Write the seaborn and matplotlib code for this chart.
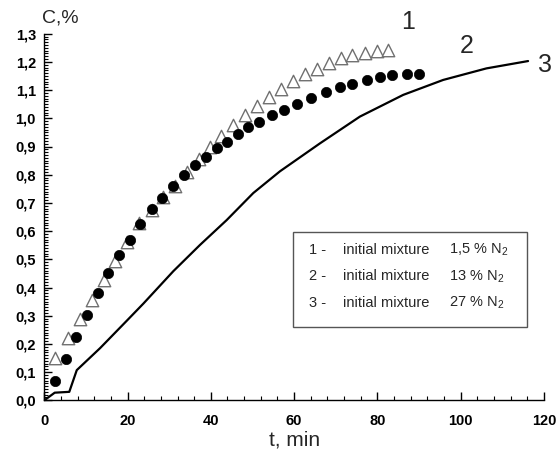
import matplotlib
matplotlib.use("Agg")
import matplotlib.pyplot as plt
import seaborn as sns
import pandas as pd
from matplotlib.ticker import MultipleLocator, FixedLocator, FixedFormatter
from matplotlib.patches import Rectangle

# Series 1 (open triangles): 1,5 % N2
t1 = [2.6, 5.6, 8.6, 11.4, 14.3, 17.0, 19.9, 22.8, 25.8, 28.6, 31.4, 34.3, 37.2, 39.8,
      42.4, 45.4, 48.2, 51.1, 54.0, 56.9, 59.8, 62.6, 65.5, 68.4, 71.2, 74.0, 77.0, 79.8, 82.6]
c1 = [0.15, 0.22, 0.287, 0.356, 0.427, 0.494, 0.562, 0.628, 0.675, 0.72, 0.76, 0.81, 0.855, 0.899,
      0.937, 0.976, 1.01, 1.044, 1.074, 1.103, 1.131, 1.157, 1.174, 1.197, 1.213, 1.225, 1.233, 1.239, 1.242]

# Series 2 (filled circles): 13 % N2
t2 = [2.6, 5.1, 7.7, 10.3, 12.8, 15.4, 17.9, 20.6, 23.1, 25.8, 28.3, 30.8, 33.5, 36.2, 38.8, 41.4,
      43.8, 46.6, 49.0, 51.6, 54.6, 57.6, 60.6, 64.0, 67.6, 71.0, 74.0, 77.4, 80.6, 83.6, 87.0, 90.1]
c2 = [0.068, 0.145, 0.226, 0.304, 0.379, 0.45, 0.515, 0.57, 0.624, 0.677, 0.718, 0.761, 0.799, 0.834,
      0.864, 0.894, 0.917, 0.944, 0.968, 0.988, 1.011, 1.029, 1.050, 1.071, 1.094, 1.112, 1.121, 1.135,
      1.145, 1.153, 1.156, 1.158]

# Series 3 (solid line): 27 % N2
t3 = [0, 2.5, 6.0, 7.8, 13.4, 19.8, 23.8, 31.0, 37.4, 43.8, 50.2, 56.6, 66.2, 75.8, 86.2, 95.8, 106.2, 116.2]
c3 = [0, 0.027, 0.03, 0.107, 0.185, 0.282, 0.343, 0.458, 0.551, 0.639, 0.735, 0.812, 0.911, 1.006,
      1.083, 1.136, 1.177, 1.203]

x_ticks = [0, 20, 40, 60, 80, 100, 120]
x_tick_labels = ["0", "20", "40", "60", "80", "100", "120"]
y_ticks = [0.0, 0.1, 0.2, 0.3, 0.4, 0.5, 0.6, 0.7, 0.8, 0.9, 1.0, 1.1, 1.2, 1.3]
y_tick_labels = ["0,0", "0,1", "0,2", "0,3", "0,4", "0,5", "0,6", "0,7", "0,8", "0,9",
                 "1,0", "1,1", "1,2", "1,3"]

curve_labels = ["1", "2", "3"]
legend_nums = ["1 -", "2 -", "3 -"]
legend_text = "initial mixture"
legend_vals = ["1,5 % N$_\\mathregular{2}$", "13 % N$_\\mathregular{2}$", "27 % N$_\\mathregular{2}$"]

sns.set_style("ticks")
plt.rcParams['font.family'] = ['Liberation Sans', 'DejaVu Sans']
plt.rcParams['mathtext.fontset'] = 'custom'
plt.rcParams['mathtext.rm'] = 'Liberation Sans'

W, H = 557, 459
fig = plt.figure(figsize=(W / 100, H / 100), dpi=100)
ax = fig.add_axes([44.3 / W, 1 - 400.3 / H, (543.9 - 44.3) / W, (400.3 - 33.7) / H])

df3 = pd.DataFrame({"t": t3, "c": c3})
df1 = pd.DataFrame({"t": t1, "c": c1})
df2 = pd.DataFrame({"t": t2, "c": c2})

sns.lineplot(data=df3, x="t", y="c", color="black", lw=1.6, sort=False, estimator=None, ax=ax, zorder=2)
sns.scatterplot(data=df1, x="t", y="c", marker="^", s=80, facecolor="white", edgecolor="#707070",
                linewidth=1.0, ax=ax, zorder=3)
sns.scatterplot(data=df2, x="t", y="c", marker="o", s=55, color="black", edgecolor="black",
                linewidth=0.5, ax=ax, zorder=4)

ax.set_xlim(0, 120)
ax.set_ylim(0, 1.3)
ax.set_xlabel("")
ax.set_ylabel("")
for s in ["top", "right"]:
    ax.spines[s].set_visible(False)
for s in ["left", "bottom"]:
    ax.spines[s].set_color("black")
    ax.spines[s].set_linewidth(1.0)

ax.xaxis.set_major_locator(FixedLocator(x_ticks))
ax.xaxis.set_major_formatter(FixedFormatter(x_tick_labels))
ax.yaxis.set_major_locator(FixedLocator(y_ticks))
ax.yaxis.set_major_formatter(FixedFormatter(y_tick_labels))
ax.xaxis.set_minor_locator(MultipleLocator(4))
ax.yaxis.set_minor_locator(MultipleLocator(0.01))
ax.tick_params(which="major", direction="in", length=6, width=1.0, color="black",
               labelsize=10.5, labelcolor="black")
ax.tick_params(axis="x", which="major", pad=10)
ax.tick_params(axis="y", which="major", pad=6)
ax.tick_params(which="minor", direction="in", length=3, width=0.8, color="black")
for lab in ax.get_xticklabels() + ax.get_yticklabels():
    lab.set_fontweight("bold")
ax.set_clip_on(False)

# axis titles
fig.text(60 / W, 1 - 18 / H, "C,%", fontsize=14, ha="center", va="center")
fig.text(295 / W, 1 - 440 / H, "t, min", fontsize=15, ha="center", va="center")

# curve labels
for lbl, (px, py) in zip(curve_labels, [(408, 22), (467, 46), (545, 65)]):
    fig.text(px / W, 1 - py / H, lbl, fontsize=18, ha="center", va="center")

# legend box
fig.patches.append(Rectangle((293.3 / W, 1 - 327.3 / H), (526.7 - 293.3) / W, (327.3 - 231.7) / H,
                             transform=fig.transFigure, facecolor="white", edgecolor="#555555",
                             linewidth=1.0, zorder=5))
for i, (n, v) in enumerate(zip(legend_nums, legend_vals)):
    y = 1 - (250 + 26.4 * i) / H
    fig.text(309 / W, y, n, fontsize=10.5, ha="left", va="center", zorder=6)
    fig.text(342.7 / W, y, legend_text, fontsize=10.5, ha="left", va="center", zorder=6)
    fig.text(449.3 / W, y, v, fontsize=10.5, ha="left", va="center", zorder=6)

fig.savefig("out.png", dpi=100, facecolor="white")
